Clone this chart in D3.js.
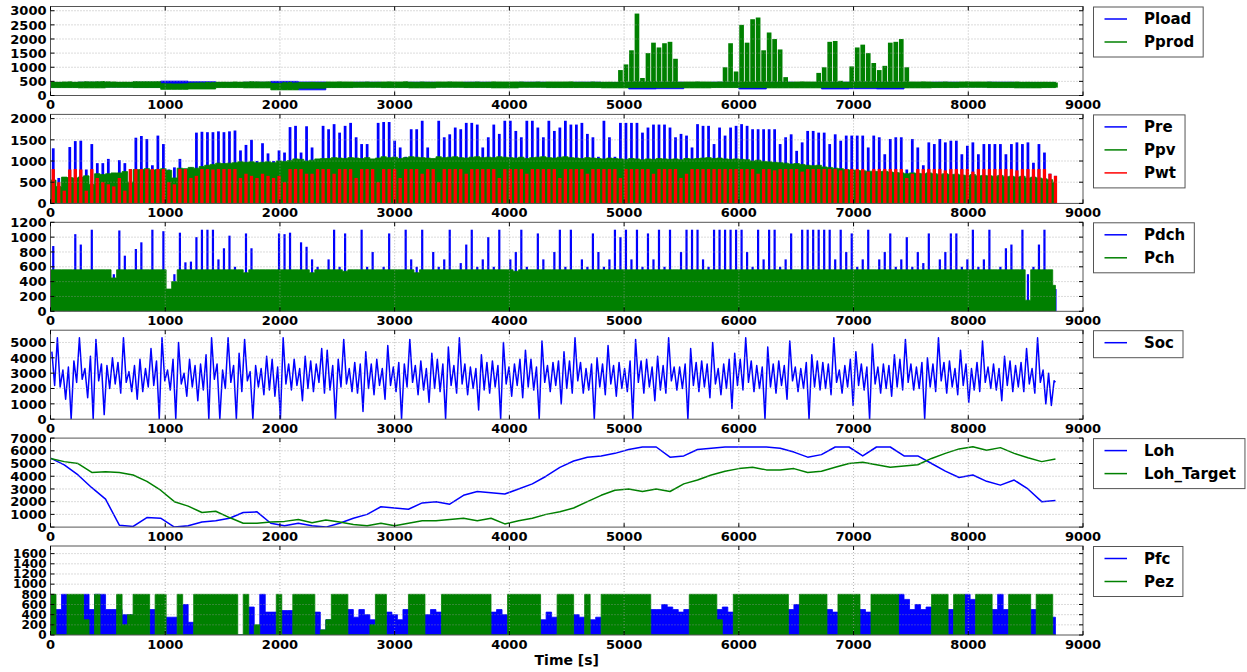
<!DOCTYPE html>
<html>
<head>
<meta charset="utf-8">
<script src="https://cdn.jsdelivr.net/npm/d3@7"></script>
<style>
body { margin: 0; background: #fff; }
svg { font-family: 'DejaVu Sans', sans-serif; font-weight: bold; }
</style>
</head>
<body>
<div id="chart"></div>
<script>
// hourly simulation, one year (8760 h); dense series kept as 48 h bin extremes
const T_END = 8760;
const BIN = 48;
const LO_STEP = 240;
const LOH_STEP = 120;

// panel 1
const pprodHi = [
    480,470,490,500,470,480,500,490,500,510,
    500,490,470,480,470,490,460,480,470,490,
    430,420,400,410,420,440,450,460,480,470,
    470,480,460,490,480,470,500,490,480,490,
    430,420,470,480,460,470,450,480,410,430,
    480,470,490,480,460,470,480,490,470,480,
    470,490,480,470,500,480,460,490,480,470,
    480,470,490,480,470,460,480,490,470,480,
    490,480,470,460,480,490,470,480,490,470,
    480,470,460,480,490,470,480,470,490,480,
    470,480,460,900,1100,1600,2900,620,1500,1870,
    1700,1850,1900,1300,480,470,430,490,480,470,
    480,490,1000,1850,850,2500,1870,2700,2760,1600,
    2230,2000,1630,650,480,470,490,480,470,800,
    1000,1900,1930,520,480,1030,1700,1800,1500,1150,
    900,1050,1870,1900,2000,1000,480,470,490,480,
    470,480,490,470,460,480,490,470,480,470,
    490,480,470,460,480,490,470,480,460,470,
    480,470,460
];
const pprodTop = [
    470,480,470,490,410,440,470,480,430,460,
    480,470,480,470,480,470,480,470,480,470,
    470,480,470,480,470,480,470,480,470,480,
    470,480,470,480,470,470,470
];
const pprodLo = [
    280,270,290,280,220,230,280,270,200,260,
    280,290,280,270,290,280,270,290,280,280,
    270,280,280,270,280,280,270,270,280,280,
    280,270,280,290,280,270,280
];
const ploadHi = [
    460,470,460,470,510,490,460,470,500,480,
    460,470,460,470,460,470,460,470,460,470,
    460,480,470,460,470,460,470,460,470,480,
    470,460,470,460,470,460,460
];
const ploadLo = [
    300,310,300,290,300,300,310,300,290,200,
    300,310,300,300,310,300,300,310,300,300,
    300,230,240,300,300,230,300,300,230,240,
    230,300,300,310,300,300,300
];

// panel 2
const pre = [
    1300,600,620,1330,1470,1480,800,1400,950,950,
    1050,700,1020,950,800,1550,1590,1520,900,1600,
    1400,800,850,1050,800,850,1670,1690,1680,1680,
    1700,1680,1700,1720,1250,1380,1500,1000,1420,1180,
    1000,1250,1200,1800,1830,1200,1820,1320,1000,1830,
    1750,1870,1670,1830,1900,1560,1400,1400,1000,1900,
    1920,1920,1480,1320,1100,1750,1750,1950,1320,1000,
    1950,1560,1630,1790,1750,1900,1900,1860,1320,1560,
    1860,1640,1950,1950,1710,1560,1950,1950,1790,1560,
    1950,1710,1790,1950,1860,1860,1900,1640,1560,1100,
    1950,1560,1100,1900,1900,1900,1900,1670,1790,1860,
    1860,1860,1790,1560,1640,1600,1320,1870,1830,1830,
    1400,1790,1600,1790,1830,1870,1830,1750,1750,1750,
    1750,1750,1400,1560,1630,1240,1440,1710,1710,1670,
    1670,1400,1630,1480,1600,1600,1600,1600,1320,1600,
    1560,1160,1520,1560,1560,800,1520,1320,900,1440,
    1400,1520,1440,1480,1480,1160,1360,1440,1160,1400,
    1400,1400,1400,1160,1400,1440,1400,1440,960,1400,
    1200,700,650
];
const ppv = [
    550,400,620,610,600,620,650,450,700,680,
    700,720,720,750,500,800,800,820,790,800,
    820,780,600,830,820,850,830,870,900,920,
    950,940,950,960,980,970,980,960,970,980,
    960,1000,990,1010,1050,1040,1000,1020,1050,1060,
    1060,1080,1070,1060,1080,1070,1060,1080,1050,1070,
    1100,1080,1090,1060,1080,1100,1090,1080,1070,1060,
    1100,1080,1090,1100,1080,1070,1090,1100,1080,1090,
    1080,1100,1090,1080,1070,1090,1060,1080,1090,1100,
    1080,1070,1090,1100,1080,1070,1060,1080,1070,1060,
    1050,1070,1060,1050,1040,1060,1050,1030,1050,1040,
    1060,1050,1040,1050,1030,1060,1050,1060,1070,1080,
    1060,1070,1050,1040,1050,1040,1030,1000,1020,990,
    980,970,960,950,930,940,920,900,890,900,
    860,850,830,820,800,790,780,770,760,760,
    750,760,740,730,720,700,720,710,700,720,
    700,690,700,680,690,670,660,680,650,660,
    650,640,660,630,640,620,640,600,620,600,
    580,560,500
];
const pwt = [
    810,500,300,800,810,800,300,810,600,500,
    450,400,600,300,810,810,810,810,810,810,
    810,500,450,810,810,600,650,810,810,800,
    810,810,810,810,600,700,650,600,700,650,
    600,650,500,810,810,810,700,700,810,810,
    810,700,810,810,810,600,810,810,810,500,
    810,810,810,600,810,810,810,700,810,810,
    500,810,810,810,810,700,810,810,810,810,
    810,600,810,810,810,810,700,810,810,810,
    810,810,600,810,810,810,810,700,810,810,
    810,810,810,600,810,810,810,810,810,700,
    810,810,810,810,600,700,810,810,810,810,
    810,810,810,810,810,810,810,810,700,810,
    810,780,810,810,810,810,750,810,810,810,
    810,810,810,780,810,810,810,810,750,810,
    810,810,810,810,810,600,700,810,810,810,
    810,810,780,810,810,810,810,750,810,810,
    810,810,810,810,810,780,810,810,810,810,
    810,700,650
];

// panel 3
const pdch = [
    880,400,300,500,1040,900,500,1100,500,400,
    450,500,1090,750,500,840,930,500,1100,450,
    1080,300,500,1060,660,670,1000,1100,1100,1100,
    700,850,1020,600,500,1050,850,500,500,500,
    450,1050,1040,1060,500,930,870,700,600,500,
    700,1100,600,1050,500,550,1100,600,800,500,
    600,1050,500,550,1100,700,600,1100,500,800,
    600,700,1100,500,650,900,1100,600,700,1000,
    600,1100,500,700,800,1100,600,500,1050,700,
    500,800,1100,600,1100,500,700,600,1050,800,
    600,700,1100,1000,1100,700,1100,600,1050,700,
    1100,600,1100,500,800,1100,1100,1100,700,600,
    1100,1100,1100,1100,1100,1100,800,600,1100,700,
    1100,1100,600,700,1050,500,1100,1100,1100,1100,
    1100,1100,700,1100,800,1050,600,700,1100,500,
    700,800,1050,600,700,1000,600,800,650,1050,
    500,700,800,1050,1050,600,700,1100,600,700,
    1100,500,600,850,900,400,1100,500,600,900,
    1100,500,300
];
const pch = [
    560,560,560,560,560,560,560,560,560,560,
    560,450,560,560,560,560,560,560,560,560,
    560,300,400,560,560,560,560,560,560,560,
    560,560,560,560,560,520,560,560,560,560,
    560,560,560,560,560,560,560,520,560,560,
    560,560,560,540,560,560,560,560,560,560,
    560,560,560,560,560,560,520,560,560,560,
    560,560,560,560,560,560,560,560,560,560,
    560,560,560,560,540,560,560,560,560,560,
    560,560,560,560,560,560,560,560,560,560,
    560,560,560,560,560,560,560,560,560,560,
    560,560,560,560,560,560,560,560,560,560,
    560,560,560,560,560,560,560,560,560,560,
    560,560,560,560,560,560,560,560,560,560,
    560,560,560,560,560,560,560,560,560,560,
    560,560,560,560,560,560,560,560,560,560,
    560,560,560,560,560,560,560,560,560,560,
    560,560,560,560,560,560,560,150,560,560,
    560,560,350
];

// panel 4: highest and lowest state of charge in each bin
const socHi = [
    4400,5300,3200,3400,3800,5300,3300,4100,5200,3600,
    3500,4000,3700,5300,3100,3500,3900,3300,4600,3800,
    5300,3200,3900,5000,3000,3900,3500,3600,4200,5300,
    3600,3200,5300,3500,4300,5200,3100,3500,3300,4100,
    3900,3400,5300,3600,3900,3300,4100,3800,3600,4600,
    4500,3500,3900,5200,3300,3700,3600,4400,3600,3900,
    3300,4800,3400,3700,3600,5200,3500,3800,3300,4300,
    3900,3600,4700,3500,5300,3600,3400,3300,4200,3700,
    3800,3500,5000,3400,3600,3900,4500,3900,3400,5100,
    3500,3700,3800,4400,3800,5300,3700,3300,3600,4000,
    3600,4800,3500,3700,3300,3800,5200,3800,3900,3400,
    4100,3500,5300,3400,3400,3600,4600,3700,3800,3600,
    5000,3300,3600,3900,4300,3900,5300,3800,3500,3400,
    4700,3600,3800,3500,5100,3400,3300,3700,4200,3800,
    3700,3600,5300,3200,3500,3900,4400,3600,3400,4900,
    3400,3600,3500,4200,3900,5200,3600,3400,3700,4000,
    3600,5300,3700,3800,3300,4500,3600,3300,3700,5100,
    3400,3600,3300,4100,3800,3500,3700,4600,3300,5300,
    3200,3000,2500
];
const socLo = [
    2200,2100,1300,0,2400,2600,1400,0,2500,300,
    2000,2300,1700,2400,1800,1300,1800,2100,2200,0,
    2500,1900,0,2300,1500,2100,1200,1900,0,2600,
    0,2000,2400,0,1800,2500,0,2100,1600,1900,
    1500,0,2300,1900,2200,1200,2000,1800,2400,1700,
    1900,0,2100,2300,1800,1700,500,2000,1600,2200,
    1300,2200,1800,0,2100,2400,1600,1900,1100,2000,
    1800,0,2200,1700,2300,1600,2000,600,1900,1700,
    2100,0,2300,1500,2200,1400,2100,1900,0,2400,
    1800,2200,1000,2000,1700,2500,1700,1900,0,2100,
    1600,2300,1500,2000,1800,0,2400,1700,2100,1200,
    1900,1700,2500,1900,2000,0,2200,1800,2100,1400,
    2300,1600,2000,700,2200,1900,2400,1800,2000,0,
    2100,1700,2200,1300,2500,1800,2000,0,2100,1900,
    2000,1600,2400,1700,2100,900,2200,1900,0,2300,
    1700,2000,1500,2100,1900,2400,1900,2000,0,2100,
    1800,2500,1700,2100,1600,2200,1100,1900,1800,2400,
    2000,1900,1200,2200,1800,2100,1800,2300,1700,2400,
    1000,900,2400
];

// panel 5 (every 120 h)
const loh = [
    5430,4900,4100,3100,2200,150,50,750,700,0,
    100,400,500,700,1150,1200,300,100,300,100,
    0,300,700,1000,1600,1500,1400,1900,2000,1800,
    2500,2800,2700,2600,3000,3400,4000,4700,5200,5500,
    5600,5800,6100,6300,6300,5500,5600,6100,6200,6300,
    6300,6300,6300,6200,5900,5500,5700,6300,6300,5600,
    6300,6300,5600,5600,5000,4400,3900,4100,3600,3300,
    3700,3000,2000,2100
];
const lohTarget = [
    5400,5150,5000,4300,4350,4300,4100,3600,2900,2000,
    1650,1150,1250,750,300,300,400,450,600,350,
    550,400,200,100,300,100,300,500,500,600,
    700,500,700,250,500,700,1000,1200,1500,2000,
    2500,2900,3000,2800,3000,2800,3400,3700,4100,4400,
    4600,4700,4500,4500,4600,4300,4400,4700,5000,5100,
    4900,4700,4800,4900,5400,5800,6150,6320,6050,6250,
    5800,5450,5150,5350
];

// panel 6
const pfc = [
    500,500,800,0,0,0,800,500,800,800,
    500,500,500,400,400,0,0,0,500,0,
    0,350,350,0,600,250,0,0,400,0,
    300,0,0,0,0,0,550,0,800,450,
    450,0,480,480,0,0,0,0,450,100,
    300,0,0,0,500,350,500,400,300,0,
    0,450,400,300,500,0,0,0,400,500,
    450,0,0,0,0,0,0,0,500,400,
    450,500,400,0,0,0,0,0,0,300,
    450,350,0,0,0,400,350,0,300,350,
    0,0,0,0,0,0,0,0,0,500,
    500,600,550,500,450,500,0,0,0,0,
    0,500,550,450,0,0,0,0,0,0,
    0,0,0,0,500,600,0,0,0,0,
    0,500,450,0,0,0,0,500,450,0,
    0,0,0,0,800,700,500,600,500,550,
    0,0,0,500,0,0,800,700,0,0,
    0,500,800,500,0,0,0,0,500,0,
    0,0,350
];
const pez = [
    800,0,0,800,800,800,300,0,800,0,
    0,0,800,200,400,800,800,800,0,800,
    800,0,0,800,0,0,800,800,800,800,
    800,800,800,800,0,800,0,200,0,0,
    0,800,0,0,800,800,800,800,0,100,
    300,800,800,800,0,0,0,0,200,800,
    800,0,0,0,0,800,800,800,0,0,
    0,800,800,800,800,800,800,800,800,800,
    0,0,0,800,800,800,800,800,800,0,
    0,0,800,800,800,0,0,800,0,0,
    800,800,800,800,800,800,800,800,800,0,
    0,0,0,0,0,0,800,800,800,800,
    800,300,0,0,800,800,800,800,800,800,
    800,800,800,800,0,0,800,800,800,800,
    800,0,0,800,800,800,800,0,0,800,
    800,800,800,800,0,0,0,0,0,0,
    800,800,800,0,800,800,0,0,800,800,
    800,0,0,0,800,800,800,800,0,800,
    800,800,0
];

const BLUE = '#0000ff';
const GREEN = '#008000';
const RED = '#ff0000';

const CHART_WIDTH = 1247;
const CHART_HEIGHT = 672;
const PLOT_LEFT = 50.5;
const PLOT_RIGHT = 1083;
const PANEL_TOP = 6.5;
const PANEL_GAP = 107.9;
const PANEL_H = 89;
const LEGEND_X = 1093.5;

const svg = d3.select('#chart')
    .append('svg')
    .attr('width', CHART_WIDTH)
    .attr('height', CHART_HEIGHT);

const xScale = d3.scaleLinear()
    .domain([0, 9000])
    .range([PLOT_LEFT, PLOT_RIGHT]);
const xTicks = d3.range(0, 9001, 1000);

// step points for bin arrays, closed at the last hour
function binPoints(values, step) {
    const pts = values.map((v, i) => ({ t: i * step, v: v }));
    pts.push({ t: T_END, v: values[values.length - 1] });
    return pts;
}

// value of a coarse array at hour t
function lookup(arr, step, t) {
    return arr[Math.min(arr.length - 1, Math.floor(t / step))];
}

function makePanel(i, yMax) {
    const top = PANEL_TOP + i * PANEL_GAP;
    const y = d3.scaleLinear().domain([0, yMax]).range([top + PANEL_H, top]);
    svg.append('clipPath')
        .attr('id', 'clip' + i)
        .append('rect')
        .attr('x', PLOT_LEFT)
        .attr('y', top)
        .attr('width', PLOT_RIGHT - PLOT_LEFT)
        .attr('height', PANEL_H);
    const plot = svg.append('g').attr('clip-path', `url(#clip${i})`);
    return { i, top, y, yMax, plot };
}

function drawBand(p, hi, hiStep, lo, loStep, color) {
    const area = d3.area()
        .curve(d3.curveStepAfter)
        .x(d => xScale(d.t))
        .y0(d => lo ? p.y(lookup(lo, loStep, d.t)) : p.y(0))
        .y1(d => p.y(d.v));
    p.plot.append('path')
        .datum(binPoints(hi, hiStep))
        .attr('d', area)
        .attr('fill', color)
        .attr('stroke', color)
        .attr('stroke-width', 0.8);
}

function drawBars(p, values, frac, color, lo, loStep) {
    const w = (xScale(BIN) - xScale(0)) * frac;
    const base = (i) => lo ? lookup(lo, loStep, i * BIN) : 0;
    p.plot.append('g')
        .selectAll('rect')
        .data(values)
        .enter()
        .append('rect')
        .attr('x', (d, i) => xScale(i * BIN + BIN / 2) - w / 2)
        .attr('y', d => p.y(d))
        .attr('width', w)
        .attr('height', (d, i) => Math.max(0, p.y(base(i)) - p.y(d)))
        .attr('fill', color);
}

function drawLine(p, points, color) {
    const line = d3.line()
        .x(d => xScale(d.t))
        .y(d => p.y(d.v));
    p.plot.append('path')
        .datum(points)
        .attr('d', line)
        .attr('fill', 'none')
        .attr('stroke', color)
        .attr('stroke-width', 1.5)
        .attr('stroke-linejoin', 'round');
}

function finishPanel(p, yTicks, legend, labelSize) {
    const g = svg.append('g');
    const bottom = p.top + PANEL_H;

    // dotted grid
    g.selectAll('.gx')
        .data(xTicks.slice(1, -1))
        .enter()
        .append('line')
        .attr('x1', d => xScale(d)).attr('x2', d => xScale(d))
        .attr('y1', p.top).attr('y2', bottom)
        .attr('stroke', '#999').attr('stroke-width', 0.7)
        .attr('stroke-dasharray', '1,2');
    g.selectAll('.gy')
        .data(yTicks.filter(v => v > 0 && v < p.yMax))
        .enter()
        .append('line')
        .attr('x1', PLOT_LEFT).attr('x2', PLOT_RIGHT)
        .attr('y1', d => p.y(d)).attr('y2', d => p.y(d))
        .attr('stroke', '#999').attr('stroke-width', 0.7)
        .attr('stroke-dasharray', '1,2');

    // frame
    g.append('rect')
        .attr('x', PLOT_LEFT).attr('y', p.top)
        .attr('width', PLOT_RIGHT - PLOT_LEFT).attr('height', PANEL_H)
        .attr('fill', 'none').attr('stroke', '#555').attr('stroke-width', 1);

    // inward ticks on all sides
    xTicks.forEach(t => {
        g.append('line').attr('x1', xScale(t)).attr('x2', xScale(t))
            .attr('y1', bottom).attr('y2', bottom - 4).attr('stroke', '#000');
        g.append('line').attr('x1', xScale(t)).attr('x2', xScale(t))
            .attr('y1', p.top).attr('y2', p.top + 4).attr('stroke', '#000');
    });
    yTicks.forEach(v => {
        g.append('line').attr('x1', PLOT_LEFT).attr('x2', PLOT_LEFT + 4)
            .attr('y1', p.y(v)).attr('y2', p.y(v)).attr('stroke', '#000');
        g.append('line').attr('x1', PLOT_RIGHT - 4).attr('x2', PLOT_RIGHT)
            .attr('y1', p.y(v)).attr('y2', p.y(v)).attr('stroke', '#000');
    });

    // tick labels
    g.selectAll('.xl')
        .data(xTicks)
        .enter()
        .append('text')
        .attr('x', d => xScale(d))
        .attr('y', bottom + 13.5)
        .attr('text-anchor', 'middle')
        .attr('font-size', 13)
        .text(d => d);
    g.selectAll('.yl')
        .data(yTicks)
        .enter()
        .append('text')
        .attr('x', PLOT_LEFT - 4)
        .attr('y', d => p.y(d))
        .attr('dy', '0.36em')
        .attr('text-anchor', 'end')
        .attr('font-size', labelSize || 13)
        .text(d => d);

    // legend
    const lg = svg.append('g');
    const box = lg.append('rect');
    legend.forEach(([name, color], k) => {
        const ly = p.top + 12.5 + 23 * k;
        lg.append('line')
            .attr('x1', LEGEND_X + 11).attr('x2', LEGEND_X + 33.5)
            .attr('y1', ly).attr('y2', ly)
            .attr('stroke', color).attr('stroke-width', 1.5);
        lg.append('text')
            .attr('x', LEGEND_X + 50.5)
            .attr('y', ly)
            .attr('dy', '0.36em')
            .attr('font-size', 15)
            .text(name);
    });
    const textW = d3.max(lg.selectAll('text').nodes(), n => n.getComputedTextLength());
    box.attr('x', LEGEND_X)
        .attr('y', p.top + 0.5)
        .attr('width', 50.5 + textW + 9)
        .attr('height', 23 * legend.length + 4)
        .attr('fill', '#fff')
        .attr('stroke', '#555')
        .attr('stroke-width', 1);
}

// Panel 1: load / production
const p1 = makePanel(0, 3150);
drawBand(p1, ploadHi, LO_STEP, ploadLo, LO_STEP, BLUE);
drawBand(p1, pprodTop, LO_STEP, pprodLo, LO_STEP, GREEN);
drawBars(p1, pprodHi, 0.85, GREEN, pprodLo, LO_STEP);
finishPanel(p1, d3.range(0, 3001, 500), [['Pload', BLUE], ['Pprod', GREEN]]);

// Panel 2: renewables
const p2 = makePanel(1, 2100);
drawBars(p2, pre, 0.5, BLUE);
drawBand(p2, ppv, BIN, null, 0, GREEN);
drawBars(p2, pwt, 0.6, RED);
finishPanel(p2, d3.range(0, 2001, 500), [['Pre', BLUE], ['Ppv', GREEN], ['Pwt', RED]]);

// Panel 3: battery power
const p3 = makePanel(2, 1200);
drawBars(p3, pdch, 0.4, BLUE);
drawBand(p3, pch, BIN, null, 0, GREEN);
finishPanel(p3, d3.range(0, 1201, 200), [['Pdch', BLUE], ['Pch', GREEN]]);

// Panel 4: state of charge, max then min of each bin
const p4 = makePanel(3, 5800);
const socPts = [];
socHi.forEach((v, i) => {
    socPts.push({ t: i * BIN + BIN / 4, v: v });
    socPts.push({ t: Math.min(T_END, i * BIN + 3 * BIN / 4), v: socLo[i] });
});
drawLine(p4, socPts, BLUE);
finishPanel(p4, d3.range(0, 5001, 1000), [['Soc', BLUE]]);

// Panel 5: hydrogen level
const p5 = makePanel(4, 7000);
drawLine(p5, loh.map((v, i) => ({ t: i * LOH_STEP, v: v })), BLUE);
drawLine(p5, lohTarget.map((v, i) => ({ t: i * LOH_STEP, v: v })), GREEN);
finishPanel(p5, d3.range(0, 7001, 1000), [['Loh', BLUE], ['Loh_Target', GREEN]]);

// Panel 6: fuel cell / electrolyser
const p6 = makePanel(5, 1750);
drawBand(p6, pfc, BIN, null, 0, BLUE);
drawBand(p6, pez, BIN, null, 0, GREEN);
finishPanel(p6, d3.range(0, 1601, 200), [['Pfc', BLUE], ['Pez', GREEN]], 12);

svg.append('text')
    .attr('x', (PLOT_LEFT + PLOT_RIGHT) / 2)
    .attr('y', 665)
    .attr('text-anchor', 'middle')
    .attr('font-size', 14)
    .text('Time [s]');
</script>
</body>
</html>
